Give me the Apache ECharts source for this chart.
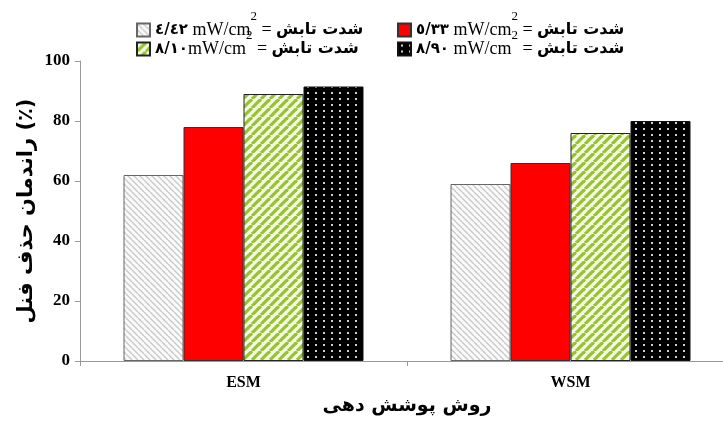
<!DOCTYPE html>
<html><head><meta charset="utf-8">
<script src="https://cdn.jsdelivr.net/npm/echarts@6/dist/echarts.min.js"></script>
<style>html,body{margin:0;padding:0;background:#fff}#c{width:723px;height:421px}</style>
</head><body><div id="c"></div>
<script>
var categories = ['ESM', 'WSM'];
var intensityLabels = ['٤/٤٢', '٥/٣٣', '٨/١٠', '٨/٩٠'];
var s1 = [62, 59];
var s2 = [78, 66];
var s3 = [89, 76];
var s4 = [91.5, 80];
var yTicks = [0, 20, 40, 60, 80, 100];
var yName = 'راندمان حذف فنل (٪)';
var xName = 'روش پوشش دهی';
var faText = 'شدت تابش';

function pat(w, h, draw) {
  var c = document.createElement('canvas'); c.width = w; c.height = h;
  var g = c.getContext('2d'); draw(g, w, h);
  return { image: c, repeat: 'repeat' };
}
var grayPat = pat(6, 6, function (g, w, h) {
  g.fillStyle = '#fafafa'; g.fillRect(0, 0, w, h);
  g.strokeStyle = '#c8c8c8'; g.lineWidth = 1.3;
  for (var k = -2; k <= 2; k++) { g.beginPath(); g.moveTo(k * w, 0); g.lineTo(k * w + w, h); g.stroke(); }
});
var greenPat = pat(9, 9, function (g, w, h) {
  g.fillStyle = '#f4fbe0'; g.fillRect(0, 0, w, h);
  g.strokeStyle = '#98c236'; g.lineWidth = 3.2;
  for (var k = -2; k <= 2; k++) { g.beginPath(); g.moveTo(k * w, h); g.lineTo(k * w + w, 0); g.stroke(); }
});
var dotPat = pat(8, 6, function (g, w, h) {
  g.fillStyle = '#000'; g.fillRect(0, 0, w, h);
  g.fillStyle = '#cfcfcf'; g.fillRect(3, 2, 2, 2);
});
var fills = [grayPat, '#ff0000', greenPat, dotPat];
var borders = ['#666', '#333', '#222', '#111'];
var values = [s1, s2, s3, s4];

var names = intensityLabels.map(function (l, i) { return 's' + i; });
function fmt(name) {
  var i = names.indexOf(name);
  var sp = (i === 2) ? '' : ' ';
  return '{num|' + intensityLabels[i] + '}{u|' + sp + 'mW/cm}{sup|2}{u| = }{fa|' + faText + '}';
}
var rich = {
  num: { fontFamily: 'DejaVu Sans', fontWeight: 'bold', fontSize: 15, color: '#000', lineHeight: 40 },
  u: { fontFamily: 'Liberation Serif', fontSize: 18, color: '#000', lineHeight: 40 },
  sup: { fontFamily: 'Liberation Serif', fontSize: 13, color: '#000', lineHeight: 14, verticalAlign: 'top' },
  fa: { fontFamily: 'DejaVu Sans', fontWeight: 'bold', fontSize: 16, color: '#000', lineHeight: 40 }
};

var chart = echarts.init(document.getElementById('c'), null, { renderer: 'canvas' });
chart.setOption({
  animation: false,
  backgroundColor: '#fff',
  legend: [
    { data: [names[0], names[2]], orient: 'vertical', left: 136, top: 10, padding: 0, itemGap: -10, itemWidth: 13, itemHeight: 13, icon: 'rect',
      formatter: fmt, textStyle: { rich: rich } },
    { data: [names[1], names[3]], orient: 'vertical', left: 397, top: 10, padding: 0, itemGap: -10, itemWidth: 13, itemHeight: 13, icon: 'rect',
      formatter: fmt, textStyle: { rich: rich } }
  ],
  grid: { left: 80, top: 61, width: 654, height: 300, outerBoundsMode: 'none', containLabel: false },
  xAxis: {
    type: 'category', data: categories,
    name: xName, nameLocation: 'middle', nameGap: 36, nameMoveOverlap: false,
    nameTextStyle: { fontFamily: 'DejaVu Sans', fontWeight: 'bold', fontSize: 19, color: '#000' },
    axisLine: { lineStyle: { color: '#999' } },
    axisTick: { show: true, length: 5, lineStyle: { color: '#999' } },
    axisLabel: { fontFamily: 'Liberation Serif', fontWeight: 'bold', fontSize: 16, color: '#000', margin: 14 }
  },
  yAxis: {
    type: 'value', min: 0, max: 100, interval: 20,
    name: yName, nameLocation: 'middle', nameGap: 53, nameRotate: 90, nameMoveOverlap: false,
    nameTextStyle: { fontFamily: 'DejaVu Sans', fontWeight: 'bold', fontSize: 21, color: '#000', verticalAlign: 'middle' },
    axisLine: { show: true, lineStyle: { color: '#999' } },
    axisTick: { show: true, length: 5, lineStyle: { color: '#999' } },
    splitLine: { show: false },
    axisLabel: { fontFamily: 'Liberation Serif', fontWeight: 'bold', fontSize: 17, color: '#000', margin: 10 }
  },
  series: values.map(function (v, i) {
    return {
      name: names[i], type: 'bar', data: v, barWidth: 60, barGap: '0%',
      itemStyle: { color: fills[i], borderColor: borders[i], borderWidth: 1 }
    };
  })
});
</script></body></html>
